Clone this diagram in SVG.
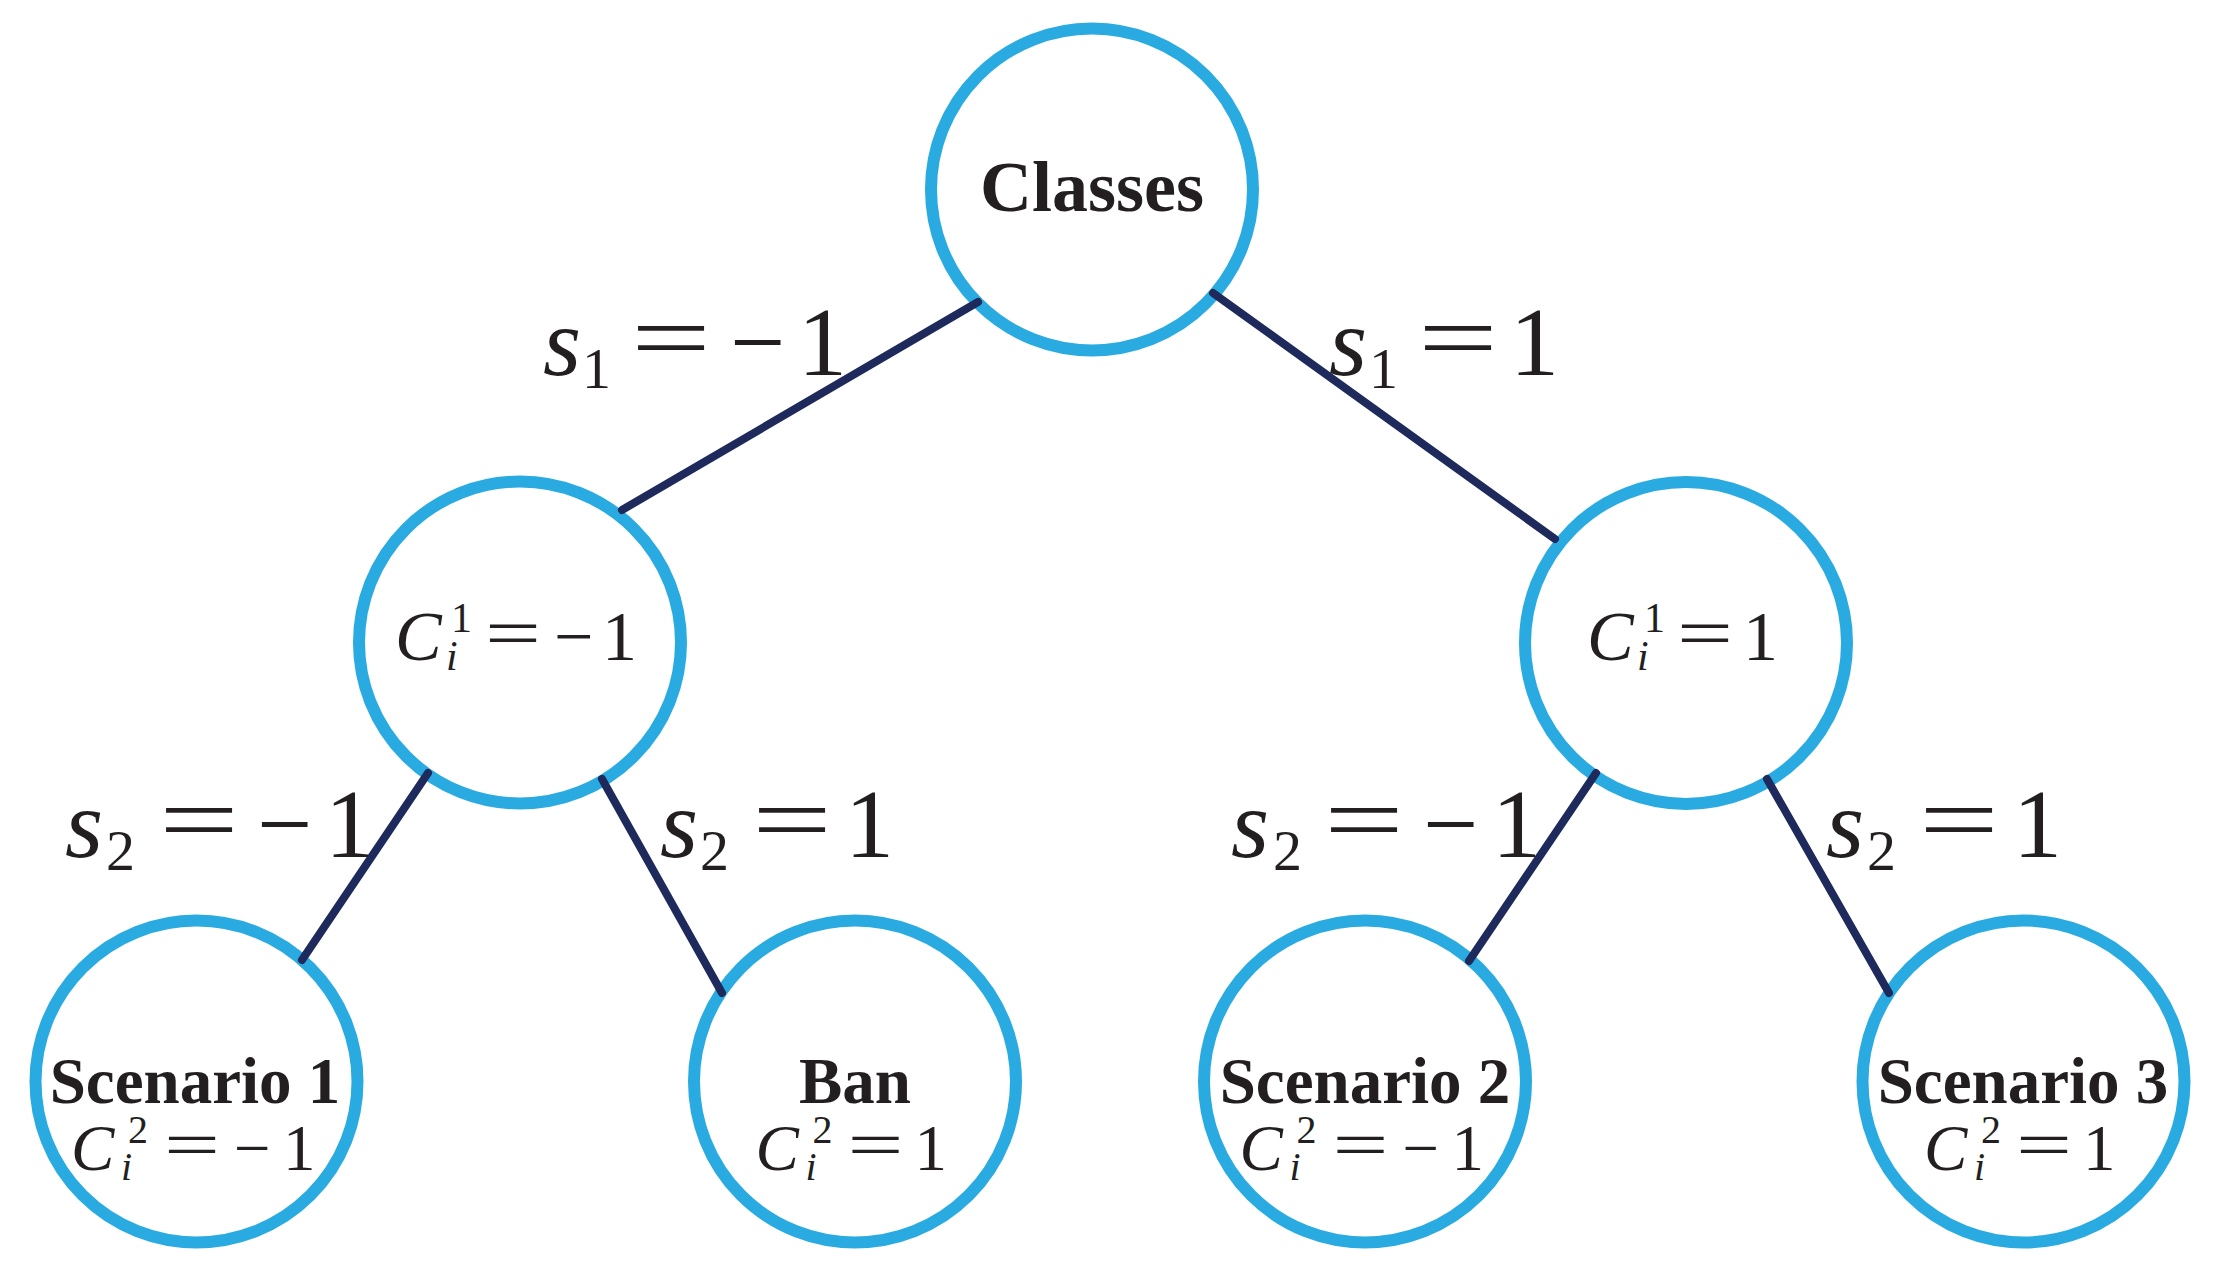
<svg xmlns="http://www.w3.org/2000/svg" width="2218" height="1282" viewBox="0 0 2218 1282">
<style>
.node circle{fill:#fff;stroke:#29ABE2;stroke-width:12}
.edge line{stroke:#1E2A5C;stroke-width:8;stroke-linecap:round}
text{fill:#231F20;font-family:"Liberation Serif","Times New Roman",serif}
.title{font-weight:bold;font-size:65px;text-anchor:middle}
.m70{font-size:70px}
.m65{font-size:65px}
.m98{font-size:98px}
.it{font-style:italic}
.s42{font-size:42px}
.s40{font-size:40px}
.s58{font-size:58px}
</style>
<rect width="2218" height="1282" fill="#fff"/>
<g id="nodes">
<g id="n-classes" class="node">
<circle cx="1092" cy="189.5" r="161"/>
<text class="title" x="1092" y="211" style="font-size:72px">Classes</text>
</g>
<g id="n-c1neg" class="node">
<circle cx="520" cy="642.5" r="161"/>
<text class="m70"><tspan class="it" x="395" y="660">C</tspan><tspan class="s42" x="451" y="632">1</tspan><tspan class="s42 it" x="446" y="670">i</tspan><tspan x="485" y="657" textLength="56" lengthAdjust="spacingAndGlyphs">=</tspan><tspan x="554" y="660">−</tspan><tspan x="602" y="660">1</tspan></text>
</g>
<g id="n-c1pos" class="node">
<circle cx="1686" cy="643" r="161"/>
<text class="m70"><tspan class="it" x="1587" y="660">C</tspan><tspan class="s42" x="1644" y="632">1</tspan><tspan class="s42 it" x="1637" y="670">i</tspan><tspan x="1677" y="657" textLength="56" lengthAdjust="spacingAndGlyphs">=</tspan><tspan x="1743" y="660">1</tspan></text>
</g>
<g id="n-scenario1" class="node">
<circle cx="196.5" cy="1081.5" r="161"/>
<text class="title" x="195" y="1103">Scenario 1</text>
<text class="m65"><tspan class="it" x="71" y="1170">C</tspan><tspan class="s40" x="128" y="1143">2</tspan><tspan class="s40 it" x="121" y="1180">i</tspan><tspan x="164" y="1167" textLength="56" lengthAdjust="spacingAndGlyphs">=</tspan><tspan x="234" y="1170">−</tspan><tspan x="283" y="1170">1</tspan></text>
</g>
<g id="n-ban" class="node">
<circle cx="855" cy="1081.5" r="161"/>
<text class="title" x="855" y="1103">Ban</text>
<text class="m65"><tspan class="it" x="755.5" y="1170">C</tspan><tspan class="s40" x="812.5" y="1143">2</tspan><tspan class="s40 it" x="805.5" y="1180">i</tspan><tspan x="847.5" y="1167" textLength="56" lengthAdjust="spacingAndGlyphs">=</tspan><tspan x="914.5" y="1170">1</tspan></text>
</g>
<g id="n-scenario2" class="node">
<circle cx="1365" cy="1081.5" r="161"/>
<text class="title" x="1365" y="1103">Scenario 2</text>
<text class="m65"><tspan class="it" x="1239.5" y="1170">C</tspan><tspan class="s40" x="1296.5" y="1143">2</tspan><tspan class="s40 it" x="1289.5" y="1180">i</tspan><tspan x="1332.5" y="1167" textLength="56" lengthAdjust="spacingAndGlyphs">=</tspan><tspan x="1402.5" y="1170">−</tspan><tspan x="1451.5" y="1170">1</tspan></text>
</g>
<g id="n-scenario3" class="node">
<circle cx="2023.5" cy="1081.5" r="161"/>
<text class="title" x="2023" y="1103">Scenario 3</text>
<text class="m65"><tspan class="it" x="1924" y="1170">C</tspan><tspan class="s40" x="1981" y="1143">2</tspan><tspan class="s40 it" x="1974" y="1180">i</tspan><tspan x="2016" y="1167" textLength="56" lengthAdjust="spacingAndGlyphs">=</tspan><tspan x="2083" y="1170">1</tspan></text>
</g>
</g>
<g id="connectors" class="edge">
<line x1="978" y1="302" x2="622" y2="510"/>
<line x1="1213" y1="293" x2="1555" y2="539"/>
<line x1="428" y1="773" x2="302" y2="960"/>
<line x1="602" y1="779" x2="722" y2="993"/>
<line x1="1596" y1="773" x2="1469" y2="961"/>
<line x1="1767" y1="779" x2="1889" y2="993"/>
</g>
<g id="edge-labels">
<text class="m98"><tspan class="it" x="543" y="375">s</tspan><tspan class="s58" x="582" y="388">1</tspan><tspan x="631" y="370" textLength="80" lengthAdjust="spacingAndGlyphs">=</tspan><tspan x="730" y="375">−</tspan><tspan x="798" y="375">1</tspan></text>
<text class="m98"><tspan class="it" x="1329" y="375">s</tspan><tspan class="s58" x="1369" y="388">1</tspan><tspan x="1418" y="370" textLength="80" lengthAdjust="spacingAndGlyphs">=</tspan><tspan x="1510" y="375">1</tspan></text>
<text class="m98"><tspan class="it" x="65" y="857">s</tspan><tspan class="s58" x="106" y="870">2</tspan><tspan x="159" y="852" textLength="80" lengthAdjust="spacingAndGlyphs">=</tspan><tspan x="257" y="857">−</tspan><tspan x="325" y="857">1</tspan></text>
<text class="m98"><tspan class="it" x="660" y="857">s</tspan><tspan class="s58" x="700" y="870">2</tspan><tspan x="752" y="852" textLength="80" lengthAdjust="spacingAndGlyphs">=</tspan><tspan x="845" y="857">1</tspan></text>
<text class="m98"><tspan class="it" x="1231" y="857">s</tspan><tspan class="s58" x="1273" y="870">2</tspan><tspan x="1324" y="852" textLength="80" lengthAdjust="spacingAndGlyphs">=</tspan><tspan x="1423" y="857">−</tspan><tspan x="1492" y="857">1</tspan></text>
<text class="m98"><tspan class="it" x="1826" y="857">s</tspan><tspan class="s58" x="1867" y="870">2</tspan><tspan x="1919" y="852" textLength="80" lengthAdjust="spacingAndGlyphs">=</tspan><tspan x="2013" y="857">1</tspan></text>
</g>
</svg>
